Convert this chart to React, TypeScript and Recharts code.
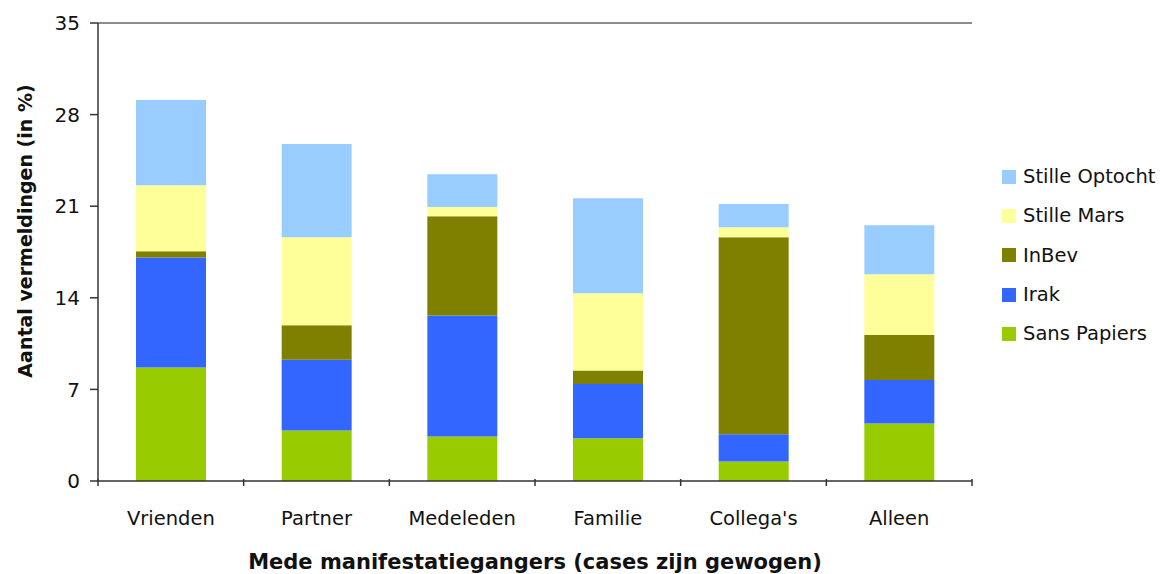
import React from 'react';
import {
  BarChart, Bar, XAxis, YAxis, Legend, ReferenceLine, Label,
} from 'recharts';

const categories = ['Vrienden', 'Partner', 'Medeleden', 'Familie', "Collega's", 'Alleen'];
const sansPapiers = [8.68, 3.86, 3.4, 3.27, 1.49, 4.4];
const irak = [8.4, 5.41, 9.24, 4.14, 2.09, 3.31];
const inBev = [0.48, 2.63, 7.6, 1.04, 15.05, 3.45];
const stilleMars = [5.05, 6.73, 0.69, 5.9, 0.77, 4.64];
const stilleOptocht = [6.5, 7.12, 2.52, 7.26, 1.76, 3.75];
const yTicks = [0, 7, 14, 21, 28, 35];

const series = [
  { key: 'Sans Papiers', values: sansPapiers, color: '#99CC00' },
  { key: 'Irak', values: irak, color: '#3366FF' },
  { key: 'InBev', values: inBev, color: '#808000' },
  { key: 'Stille Mars', values: stilleMars, color: '#FFFF99' },
  { key: 'Stille Optocht', values: stilleOptocht, color: '#99CCFF' },
];

const data = categories.map((name, i) => {
  const row: Record<string, string | number> = { name };
  series.forEach((s) => { row[s.key] = s.values[i]; });
  return row;
});

const FONT = '"DejaVu Sans", sans-serif';
const PLOT_W = 874;
const STEP = PLOT_W / categories.length;

const CategoryTick = (props: any) => {
  const { x, y, payload, index } = props;
  const axisY = y - 10;
  return (
    <g>
      <line x1={x - STEP / 2} x2={x - STEP / 2} y1={axisY} y2={axisY + 7} stroke="#333" strokeWidth={1.5} />
      {index === categories.length - 1 && (
        <line x1={x + STEP / 2} x2={x + STEP / 2} y1={axisY} y2={axisY + 7} stroke="#333" strokeWidth={1.5} />
      )}
      <text x={x} y={axisY + 46} textAnchor="middle" fontFamily={FONT} fontSize={19.5} fill="#111">
        {payload.value}
      </text>
    </g>
  );
};

const YTitle = (props: any) => {
  const { viewBox } = props;
  const cx = 25;
  const cy = viewBox.y + viewBox.height / 2 - 21;
  return (
    <text
      x={cx}
      y={cy}
      transform={`rotate(-90 ${cx} ${cy})`}
      textAnchor="middle"
      dominantBaseline="central"
      fontFamily={FONT}
      fontWeight="bold"
      fontSize={19}
      fill="#111"
    >
      Aantal vermeldingen (in %)
    </text>
  );
};

const LegendBox = () => (
  <div style={{ fontFamily: FONT, fontSize: 19.5, color: '#111' }}>
    {[...series].reverse().map((s) => (
      <div key={s.key} style={{ display: 'flex', alignItems: 'center', height: 39.3 }}>
        <span style={{ width: 14, height: 14, background: s.color, marginRight: 7, display: 'inline-block' }} />
        <span>{s.key}</span>
      </div>
    ))}
  </div>
);

const App = () => (
  <div style={{ position: 'absolute', left: 0, top: 0 }}>
    <BarChart
      width={1170}
      height={574}
      data={data}
      margin={{ top: 23, right: 198, bottom: 0, left: 0 }}
      barSize={70}
    >
      <XAxis
        dataKey="name"
        height={93}
        tickLine={false}
        axisLine={{ stroke: '#333', strokeWidth: 1.5 }}
        tick={<CategoryTick />}
        interval={0}
      >
        <Label
          value="Mede manifestatiegangers (cases zijn gewogen)"
          position="insideBottom"
          offset={5}
          style={{ fontFamily: FONT, fontWeight: 'bold', fontSize: 21, fill: '#111' }}
        />
      </XAxis>
      <YAxis
        width={98}
        domain={[0, 35]}
        ticks={yTicks}
        tickSize={8}
        tickMargin={10}
        tickLine={{ stroke: '#333', strokeWidth: 1.5 }}
        axisLine={{ stroke: '#333', strokeWidth: 1.5 }}
        tick={{ fontFamily: FONT, fontSize: 20, fill: '#111' }}
        interval={0}
      >
        <Label content={<YTitle />} />
      </YAxis>
      <YAxis
        yAxisId="frame"
        orientation="right"
        width={0}
        domain={[0, 35]}
        tick={false}
        tickLine={false}
        axisLine={{ stroke: '#8c8c8c', strokeWidth: 2 }}
      />
      <ReferenceLine y={35} stroke="#8c8c8c" strokeWidth={2} />
      <Legend
        layout="horizontal"
        align="center"
        verticalAlign="middle"
        content={<LegendBox />}
        wrapperStyle={{ position: 'absolute', left: 1002, top: 157, width: 168 }}
      />
      {series.map((s) => (
        <Bar key={s.key} dataKey={s.key} stackId="a" fill={s.color} isAnimationActive={false} />
      ))}
    </BarChart>
  </div>
);

export default App;
